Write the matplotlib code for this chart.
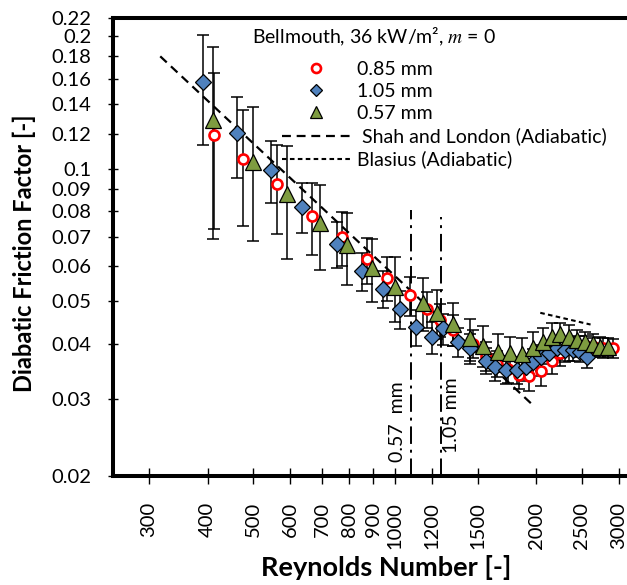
import matplotlib
matplotlib.use('Agg')
import matplotlib.pyplot as plt
from matplotlib.lines import Line2D
from matplotlib.ticker import FixedLocator, FixedFormatter, NullLocator

plt.rcParams['font.family'] = ['Lato', 'DejaVu Sans']
plt.rcParams['mathtext.fontset'] = 'stix'

# ---------------- data ----------------
re_085 = [412, 475, 562, 666, 771, 874, 964, 1078, 1170, 1248, 1332, 1465, 1560, 1650,
          1740, 1840, 1933, 2044, 2157, 2250, 2350, 2450, 2550, 2650, 2780, 2918]
f_085 = [0.119, 0.1051, 0.0921, 0.0780, 0.0699, 0.0622, 0.0565, 0.0515, 0.0480, 0.0453,
         0.0429, 0.0400, 0.0375, 0.0360, 0.0350, 0.0340, 0.0337, 0.0346, 0.0366, 0.0380,
         0.0390, 0.0395, 0.0395, 0.0392, 0.0391, 0.0390]
e_085 = [0.046, 0.031, 0.021, 0.0145, 0.0097, 0.0075, 0.0064, 0.0052, 0.0045, 0.004,
         0.0035, 0.003, 0.0028, 0.0025, 0.0025, 0.0025, 0.0025, 0.0025, 0.0025, 0.0025,
         0.0025, 0.0022, 0.0022, 0.002, 0.002, 0.002]

re_105 = [390, 461, 545, 634, 753, 851, 943, 1026, 1110, 1199, 1269, 1366, 1446, 1564,
          1634, 1725, 1817, 1902, 1972, 2044, 2132, 2211, 2303, 2391, 2478, 2569]
f_105 = [0.157, 0.1204, 0.0994, 0.0820, 0.0675, 0.0585, 0.0533, 0.0480, 0.0436, 0.0413,
         0.0433, 0.0403, 0.0390, 0.0366, 0.0354, 0.0349, 0.0348, 0.0354, 0.0363, 0.0372,
         0.0381, 0.0390, 0.0386, 0.0386, 0.0383, 0.0372]
e_105 = [0.044, 0.025, 0.016, 0.0105, 0.008, 0.0057, 0.0052, 0.0048, 0.004, 0.0035,
         0.0035, 0.003, 0.003, 0.0025, 0.0025, 0.0025, 0.0025, 0.0025, 0.0025, 0.0025,
         0.0022, 0.0022, 0.0022, 0.002, 0.002, 0.002]

re_057 = [410, 499, 591, 694, 793, 893, 1001, 1150, 1232, 1332, 1446, 1539, 1661, 1759,
          1863, 1966, 2065, 2157, 2247, 2352, 2446, 2540, 2637, 2733, 2847]
f_057 = [0.1293, 0.1033, 0.0874, 0.0752, 0.0669, 0.0595, 0.0538, 0.0495, 0.0469, 0.0444,
         0.0411, 0.0396, 0.0383, 0.0381, 0.0379, 0.0390, 0.0403, 0.0415, 0.0421, 0.0415,
         0.0408, 0.0403, 0.0400, 0.0393, 0.0392]
e_057 = [0.060, 0.035, 0.025, 0.0165, 0.0125, 0.0098, 0.009, 0.0068, 0.006, 0.005,
         0.0045, 0.0042, 0.0038, 0.0034, 0.0032, 0.0034, 0.003, 0.003, 0.0025, 0.0025,
         0.0022, 0.0022, 0.002, 0.002, 0.002]

shah_re = [317, 1960]
shah_f = [0.180, 0.0291]
blasius_re = [2040, 2610]
blasius_f = [0.0470, 0.0442]

trans_re = [1085, 1255]
trans_ftop = [0.0804, 0.0776]
trans_labels = ['0.57  mm', '1.05 mm']

x_ticks = [300, 400, 500, 600, 700, 800, 900, 1000, 1200, 1500, 2000, 2500, 3000]
y_ticks = [0.02, 0.03, 0.04, 0.05, 0.06, 0.07, 0.08, 0.09, 0.1, 0.12, 0.14, 0.16, 0.18, 0.2, 0.22]
y_ticklabels = ['0.02', '0.03', '0.04', '0.05', '0.06', '0.07', '0.08', '0.09', '0.1',
                '0.12', '0.14', '0.16', '0.18', '0.2', '0.22']

series_labels = ['0.85 mm', '1.05 mm', '0.57 mm']
line_labels = [' Shah and London (Adiabatic)', 'Blasius (Adiabatic)']
legend_title = 'Bellmouth, 36 kW/m², $m$ = 0'

RED = '#FF0000'
BLUE = '#4F81BD'
GREEN = '#7E9C40'

# ---------------- figure ----------------
W, H = 627, 585
fig = plt.figure(figsize=(W / 100, H / 100), dpi=100)
L, R, T, B = 113, 627, 18, 476
ax = fig.add_axes([L / W, (H - B) / H, (R - L) / W, (B - T) / H])
ax.set_xscale('log')
ax.set_yscale('log')
ax.set_xlim(251.5, 3120)
ax.set_ylim(0.02, 0.22)

# error bars (beneath all markers)
ekw = dict(fmt='none', ecolor='black', elinewidth=1.1, capsize=4.2, capthick=1.1, zorder=2)
ax.errorbar(re_085, f_085, yerr=e_085, **ekw)
ax.errorbar(re_105, f_105, yerr=e_105, **ekw)
ax.errorbar(re_057, f_057, yerr=e_057, **ekw)

# correlation lines
ax.plot(shah_re, shah_f, color='black', lw=1.6, dashes=(4, 2.6), zorder=2.5)
ax.plot(blasius_re, blasius_f, color='black', lw=1.5, dashes=(2.2, 1.6), zorder=2.5)

# transition lines
ax.vlines(trans_re, 0.02, trans_ftop, colors='black', lw=1.4,
          linestyles=[(0, (9, 3, 1.5, 3))], zorder=2.5)
ax.text(1016, 0.0266, trans_labels[0], rotation=90, ha='center', va='center', fontsize=14)
ax.text(1322, 0.0275, trans_labels[1], rotation=90, ha='center', va='center', fontsize=14)

# markers
ax.plot(re_085, f_085, ls='none', marker='o', ms=7.2, mfc='white', mec=RED, mew=1.9, zorder=3)
ax.plot(re_105, f_105, ls='none', marker='D', ms=8.0, mfc=BLUE, mec='black', mew=0.9, zorder=4)
ax.plot(re_057, f_057, ls='none', marker='^', ms=11, mfc=GREEN, mec='black', mew=0.9, zorder=5)

# axes styling
for s in ['left', 'bottom', 'top']:
    ax.spines[s].set_linewidth(2.9)
ax.spines['right'].set_visible(False)

ax.xaxis.set_major_locator(FixedLocator(x_ticks))
ax.xaxis.set_major_formatter(FixedFormatter([str(v) for v in x_ticks]))
ax.xaxis.set_minor_locator(NullLocator())
ax.yaxis.set_major_locator(FixedLocator(y_ticks))
ax.yaxis.set_major_formatter(FixedFormatter(y_ticklabels))
ax.yaxis.set_minor_locator(NullLocator())
ax.tick_params(axis='x', direction='inout', length=12, width=1.0, pad=12.5,
               labelsize=14.5, labelrotation=90, top=False)
ax.tick_params(axis='y', direction='inout', length=7.2, width=1.0, pad=12.0,
               labelsize=14.5, right=False)

# axis titles
fig.text(386.5 / W, 1 - 568 / H, 'Reynolds Number [-]', ha='center', va='center',
         fontsize=19.5, fontweight='bold')
fig.text(24 / W, 1 - 253 / H, 'Diabatic Friction Factor [-]', ha='center', va='center',
         rotation=90, fontsize=17, fontweight='bold')

# legend
handles = [
    Line2D([], [], ls='none', marker='o', ms=6.5, mfc='white', mec=RED, mew=1.9),
    Line2D([], [], ls='none', marker='D', ms=6.0, mfc=BLUE, mec='black', mew=0.9),
    Line2D([], [], ls='none', marker='^', ms=8.0, mfc=GREEN, mec='black', mew=0.9),
    Line2D([], [], color='black', lw=1.6, dashes=(4, 2.6)),
    Line2D([], [], color='black', lw=1.5, dashes=(2.2, 1.6)),
]
ax.legend(handles, series_labels + line_labels, loc='upper left',
          bbox_to_anchor=((282 - L) / (R - L), (B - 61) / (B - T)),
          frameon=False, fontsize=14, handlelength=3.5, handletextpad=0.35,
          labelspacing=0.265, borderpad=0, borderaxespad=0, numpoints=1)
ax.text((252 - L) / (R - L), (B - 37) / (B - T), legend_title, transform=ax.transAxes,
        ha='left', va='center', fontsize=14)

fig.savefig('out.png', dpi=100)
